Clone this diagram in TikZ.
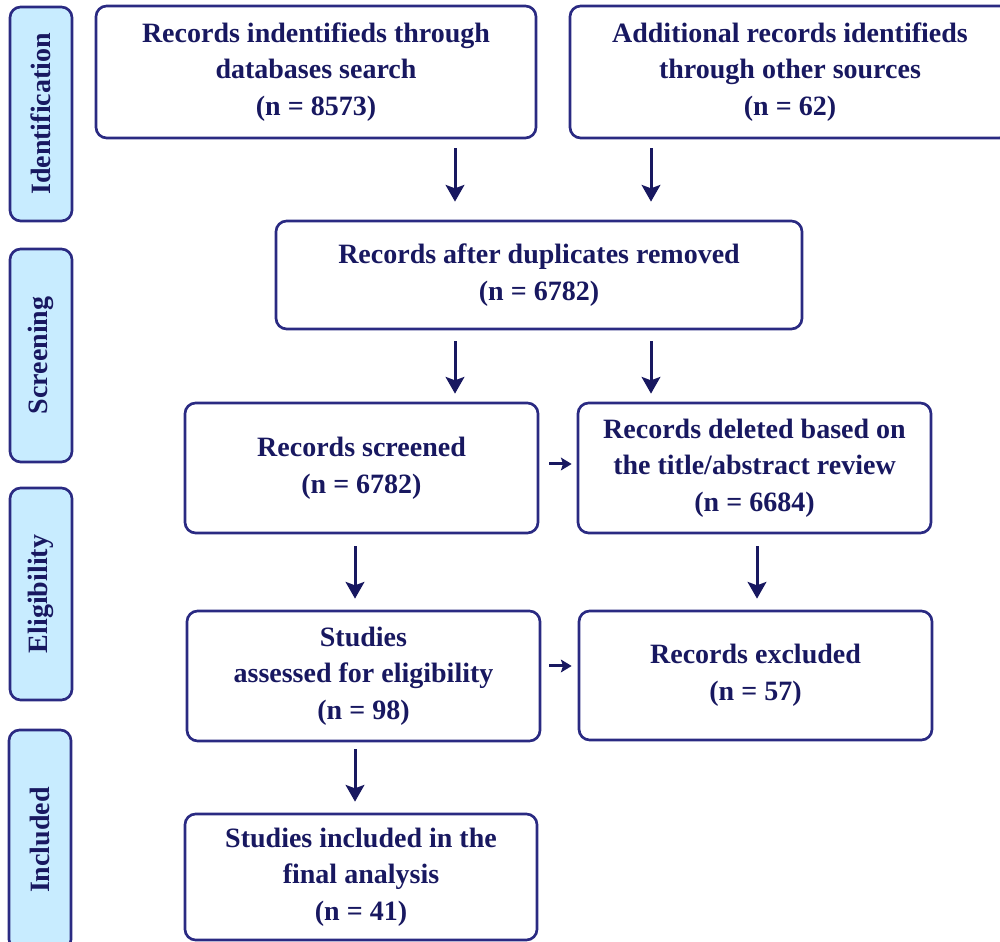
\documentclass[tikz,border=0pt]{standalone}
\usepackage{fontspec}
\setmainfont{Liberation Serif}
\usetikzlibrary{arrows.meta}
\definecolor{navy}{RGB}{24,24,96}
\definecolor{frameblue}{RGB}{42,42,130}
\definecolor{stagefill}{RGB}{200,236,255}
\tikzset{
  recbox/.style={draw=frameblue,line width=2bp,rounded corners=8bp,align=center,
    text=navy,inner sep=0pt,font=\fontsize{21bp}{27.5bp}\selectfont\bfseries},
  stagebox/.style={recbox,fill=stagefill,rotate=90,minimum height=46.5bp},
  flow/.style={->,draw=navy,line width=2.25bp},
  sideflow/.style={flow,-{Stealth[length=8bp,width=9.5bp,inset=1.5bp]}},
}
\begin{document}
\begin{tikzpicture}[>={Stealth[length=12.5bp,width=14bp,inset=2.5bp]},line join=bevel,]
\useasboundingbox (0bp,0bp) rectangle (750bp,706.5bp);
\clip (0bp,0bp) rectangle (750bp,706.5bp);
%%
\node (stage_id) at (30.75bp,621bp) [stagebox,minimum width=160.5bp] {Identification};
  \node (stage_scr) at (30.75bp,439.875bp) [stagebox,minimum width=159.75bp] {Screening};
  \node (stage_elig) at (30.75bp,261bp) [stagebox,minimum width=159bp] {Eligibility};
  \node (stage_inc) at (30bp,76.5bp) [stagebox,minimum width=165bp] {Included};
%%
\node (rec_db) at (237bp,652.5bp) [recbox,minimum width=330bp,minimum height=99bp] {Records indentifieds through\\databases search\\(n = 8573)};
  \node (rec_other) at (592.5bp,652.5bp) [recbox,minimum width=330bp,minimum height=99bp] {Additional records identifieds\\through other sources\\(n = 62)};
  \node (rec_dedup) at (404.25bp,500.25bp) [recbox,minimum width=394.5bp,minimum height=81bp] {Records after duplicates removed\\(n = 6782)};
  \node (rec_scr) at (271.125bp,355.5bp) [recbox,minimum width=264.75bp,minimum height=97.5bp] {Records screened\\(n = 6782)};
  \node (rec_del) at (565.875bp,355.5bp) [recbox,minimum width=264.75bp,minimum height=97.5bp] {Records deleted based on\\the title/abstract review\\(n = 6684)};
  \node (stud_elig) at (272.625bp,199.5bp) [recbox,minimum width=264.75bp,minimum height=97.5bp] {Studies\\assessed for eligibility\\(n = 98)};
  \node (rec_excl) at (566.625bp,199.875bp) [recbox,minimum width=264.75bp,minimum height=96.75bp] {Records excluded\\(n = 57)};
  \node (stud_inc) at (270.75bp,48.75bp) [recbox,minimum width=264bp,minimum height=94.5bp] {Studies included in the\\final analysis\\(n = 41)};
%%
\coordinate (lane_a) at (341.25bp,0bp);
  \coordinate (lane_b) at (488.25bp,0bp);
  \coordinate (lane_c) at (266.25bp,0bp);
  \coordinate (lane_d) at (567.75bp,0bp);
  \coordinate (row_a) at (0bp,358.5bp);
  \coordinate (row_b) at (0bp,207bp);
%
\draw [flow,shorten <=6.75bp,shorten >=13.5bp] (rec_db.south -| lane_a) -- (rec_dedup.north -| lane_a);
  \draw [flow,shorten <=6.75bp,shorten >=13.5bp] (rec_other.south -| lane_b) -- (rec_dedup.north -| lane_b);
  \draw [flow,shorten <=8.25bp,shorten >=6bp] (rec_dedup.south -| lane_a) -- (rec_scr.north -| lane_a);
  \draw [flow,shorten <=8.25bp,shorten >=6bp] (rec_dedup.south -| lane_b) -- (rec_del.north -| lane_b);
  \draw [sideflow,shorten <=7.5bp,shorten >=3.75bp] (rec_scr.east |- row_a) -- (rec_del.west |- row_a);
  \draw [flow,shorten <=9bp,shorten >=8.25bp] (rec_scr.south -| lane_c) -- (stud_elig.north -| lane_c);
  \draw [flow,shorten <=9bp,shorten >=8.25bp] (rec_del.south -| lane_d) -- (rec_excl.north -| lane_d);
  \draw [sideflow,shorten <=6bp,shorten >=4.5bp] (stud_elig.east |- row_b) -- (rec_excl.west |- row_b);
  \draw [flow,shorten <=5.25bp,shorten >=8.25bp] (stud_elig.south -| lane_c) -- (stud_inc.north -| lane_c);
%
\end{tikzpicture}
\end{document}
